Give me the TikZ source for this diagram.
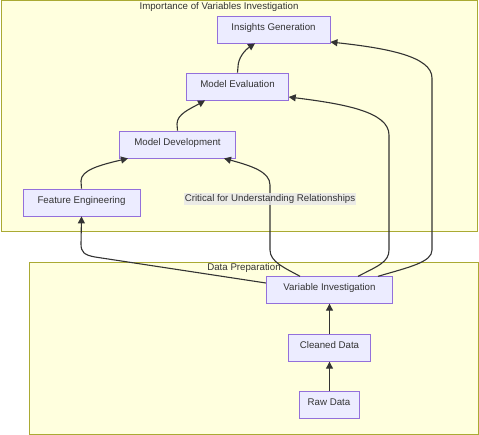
\documentclass[tikz,border=0pt]{standalone}
\usepackage{fontspec}
\setmainfont{Liberation Sans}
\usetikzlibrary{arrows.meta}
\definecolor{clfill}{HTML}{FFFFDE}
\definecolor{clborder}{HTML}{AAAA33}
\definecolor{ndfill}{HTML}{ECECFF}
\definecolor{ndborder}{HTML}{9370DB}
\definecolor{txt}{HTML}{333333}
\definecolor{lblbg}{HTML}{E8E8E8}
\begin{document}
\begin{tikzpicture}[x=1pt,y=-1pt,
  every node/.style={font=\fontsize{9.7}{11}\selectfont, text=txt},
  box/.style={draw=ndborder, fill=ndfill, line width=0.8pt, minimum height=27pt, inner sep=0pt, text height=7pt, text depth=5.5pt},
  cluster/.style={draw=clborder, fill=clfill, line width=0.8pt},
  edge/.style={draw=txt, line width=1.1pt, -{Triangle[length=7pt,width=7pt]}},
  lbl/.style={fill=lblbg, fill opacity=0.85, text opacity=1, inner sep=1pt}]
\useasboundingbox (0,0) rectangle (479,435);
% clusters
\draw[cluster] (1,0.5) rectangle (477.5,231);
\draw[cluster] (29.5,262) rectangle (478,434);
\node (t1) at (219,6.5) {Importance of Variables Investigation};
% nodes
\node[box, minimum width=113pt] (IG) at (273.5,29.5) {Insights Generation};
\node[box, minimum width=101.6pt] (ME) at (237.5,86.5) {Model Evaluation};
\node[box, minimum width=115.6pt] (MD) at (177.5,144.5) {Model Development};
\node[box, minimum width=117pt] (FE) at (81.5,202.5) {Feature Engineering};
\node[box, minimum width=126.4pt] (VI) at (329.5,289.8) {Variable Investigation};
\node[box, minimum width=81.6pt] (CD) at (329.5,347.8) {Cleaned Data};
\node[box, minimum width=60pt] (RD) at (329,405.2) {Raw Data};
% edges
\coordinate (a1) at (95,257);
\draw[edge] (VI.west |- 0,283) -- (a1) .. controls (84,255) and (81,252) .. (81,244) -- (FE.south);
\draw[edge] (300,276.3) .. controls (285,268) and (270,262) .. (270,250) -- (270,185)
   .. controls (270,172) and (252,166) .. (MD.south -| 224,0);
\draw[edge] (358,276.3) .. controls (378,266) and (389,262) .. (389,250) -- (389,135)
   .. controls (389,112) and (345,104) .. (ME.east |- 0,97);
\draw[edge] (378,276.3) .. controls (410,267) and (432,262) .. (432,250) -- (432,78)
   .. controls (432,56) and (385,48) .. (IG.east |- 0,42);
\draw[edge] (FE.north) -- (81,181) .. controls (81,170) and (100,165) .. (MD.south -| 128,0);
\draw[edge] (MD.north) -- (177,124) .. controls (177,114) and (190,109) .. (ME.south -| 205,0);
\draw[edge] (ME.north) -- (238,67) .. controls (238,58) and (245,50) .. (IG.south -| 255,0);
\draw[edge] (CD.north) -- (VI.south -| CD.north);
\draw[edge] (RD.north -| CD.south) -- (CD.south);
% edge label and bottom cluster title
\node[lbl] (L) at (270,199) {Critical for Understanding Relationships};
\node (t2) at (244,267.5) {Data Preparation};
\end{tikzpicture}
\end{document}
